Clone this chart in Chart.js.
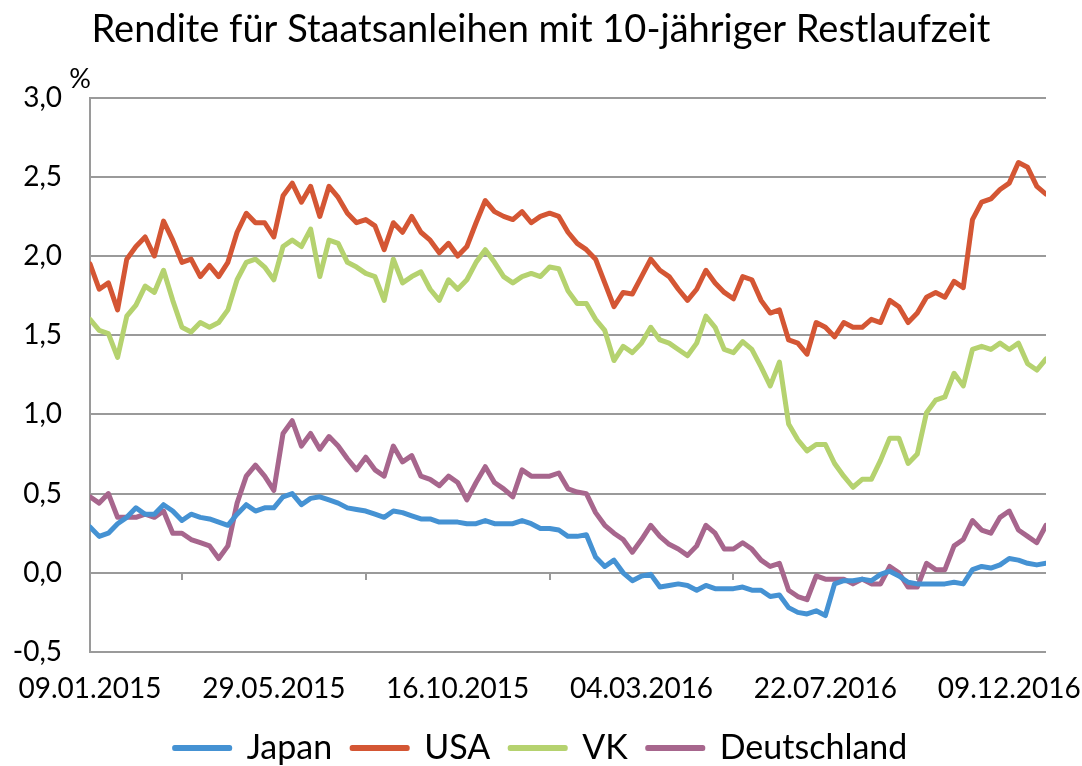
<!DOCTYPE html>
<html>
<head>
<meta charset="utf-8">
<script src="https://cdn.jsdelivr.net/npm/chart.js@4.4.0/dist/chart.umd.min.js"></script>
<style>
  html, body { margin: 0; padding: 0; background: #fff; }
</style>
</head>
<body>
<canvas id="yieldChart" width="1082" height="766"></canvas>
<script>
// weekly values (Fridays), week 0 = 09.01.2015
const tickWeeks = [0, 20, 40, 60, 80, 100];
const tickLabels = ['09.01.2015', '29.05.2015', '16.10.2015', '04.03.2016', '22.07.2016', '09.12.2016'];
const minorTickWeeks = [10, 30, 50, 70, 90];
const seriesNames = ['Japan', 'USA', 'VK', 'Deutschland'];

const japan = [
  0.29, 0.23, 0.25, 0.31, 0.35, 0.41, 0.37, 0.37, 0.43, 0.39,
  0.33, 0.37, 0.35, 0.34, 0.32, 0.30, 0.37, 0.43, 0.39, 0.41,
  0.41, 0.48, 0.50, 0.43, 0.47, 0.48, 0.46, 0.44, 0.41, 0.40,
  0.39, 0.37, 0.35, 0.39, 0.38, 0.36, 0.34, 0.34, 0.32, 0.32,
  0.32, 0.31, 0.31, 0.33, 0.31, 0.31, 0.31, 0.33, 0.31, 0.28,
  0.28, 0.27, 0.23, 0.23, 0.24, 0.10, 0.04, 0.08, 0.00, -0.05,
  -0.02, -0.01, -0.09, -0.08, -0.07, -0.08, -0.11, -0.08, -0.10, -0.10,
  -0.10, -0.09, -0.11, -0.11, -0.15, -0.14, -0.22, -0.25, -0.26, -0.24,
  -0.27, -0.07, -0.05, -0.05, -0.04, -0.05, -0.01, 0.01, -0.02, -0.06,
  -0.07, -0.07, -0.07, -0.07, -0.06, -0.07, 0.02, 0.04, 0.03, 0.05,
  0.09, 0.08, 0.06, 0.05, 0.06
];
const usa = [
  1.95, 1.79, 1.83, 1.66, 1.98, 2.06, 2.12, 2.00, 2.22, 2.10,
  1.96, 1.98, 1.87, 1.94, 1.87, 1.96, 2.15, 2.27, 2.21, 2.21,
  2.12, 2.38, 2.46, 2.34, 2.44, 2.25, 2.44, 2.37, 2.27, 2.21,
  2.23, 2.19, 2.04, 2.21, 2.15, 2.25, 2.15, 2.10, 2.02, 2.08,
  2.00, 2.06, 2.21, 2.35, 2.28, 2.25, 2.23, 2.28, 2.21, 2.25,
  2.27, 2.25, 2.15, 2.08, 2.04, 1.98, 1.83, 1.68, 1.77, 1.76,
  1.87, 1.98, 1.91, 1.87, 1.79, 1.72, 1.79, 1.91, 1.83, 1.77,
  1.73, 1.87, 1.85, 1.72, 1.64, 1.66, 1.47, 1.45, 1.38, 1.58,
  1.55, 1.49, 1.58, 1.55, 1.55, 1.60, 1.58, 1.72, 1.68, 1.58,
  1.64, 1.74, 1.77, 1.74, 1.84, 1.80, 2.23, 2.34, 2.36, 2.42,
  2.46, 2.59, 2.56, 2.44, 2.39
];
const vk = [
  1.60, 1.53, 1.51, 1.36, 1.62, 1.69, 1.81, 1.77, 1.91, 1.72,
  1.55, 1.52, 1.58, 1.55, 1.58, 1.66, 1.85, 1.96, 1.98, 1.93,
  1.85, 2.06, 2.10, 2.06, 2.17, 1.87, 2.10, 2.08, 1.96, 1.93,
  1.89, 1.87, 1.72, 1.98, 1.83, 1.87, 1.90, 1.79, 1.72, 1.85,
  1.79, 1.85, 1.96, 2.04, 1.96, 1.87, 1.83, 1.87, 1.89, 1.87,
  1.93, 1.92, 1.78, 1.70, 1.70, 1.60, 1.53, 1.34, 1.43, 1.39,
  1.45, 1.55, 1.47, 1.45, 1.41, 1.37, 1.45, 1.62, 1.55, 1.41,
  1.39, 1.46, 1.41, 1.30, 1.18, 1.33, 0.94, 0.84, 0.77, 0.81,
  0.81, 0.69, 0.61, 0.54, 0.59, 0.59, 0.71, 0.85, 0.85, 0.69,
  0.75, 1.01, 1.09, 1.11, 1.26, 1.18, 1.41, 1.43, 1.41, 1.45,
  1.41, 1.45, 1.32, 1.28, 1.35
];
const deutschland = [
  0.48, 0.44, 0.50, 0.35, 0.35, 0.35, 0.37, 0.35, 0.39, 0.25,
  0.25, 0.21, 0.19, 0.17, 0.09, 0.17, 0.44, 0.61, 0.68, 0.61,
  0.52, 0.88, 0.96, 0.80, 0.88, 0.78, 0.86, 0.80, 0.72, 0.65,
  0.73, 0.65, 0.61, 0.80, 0.70, 0.74, 0.61, 0.59, 0.55, 0.61,
  0.57, 0.46, 0.57, 0.67, 0.57, 0.53, 0.48, 0.65, 0.61, 0.61,
  0.61, 0.63, 0.53, 0.51, 0.50, 0.38, 0.30, 0.25, 0.21, 0.13,
  0.21, 0.30, 0.23, 0.18, 0.15, 0.11, 0.17, 0.30, 0.25, 0.15,
  0.15, 0.19, 0.15, 0.08, 0.04, 0.06, -0.11, -0.15, -0.17, -0.02,
  -0.04, -0.04, -0.04, -0.07, -0.04, -0.07, -0.07, 0.04, 0.00, -0.09,
  -0.09, 0.06, 0.02, 0.02, 0.17, 0.21, 0.33, 0.27, 0.25, 0.35,
  0.39, 0.27, 0.23, 0.19, 0.30
];

const colors = ['#4592D3', '#D45634', '#B5D26F', '#A7668D'];
const gridColor = '#9a9a9a';
const fontFamily = 'Lato, "Open Sans", sans-serif';

function toPoints(values) {
  return values.map((v, i) => ({ x: i, y: v }));
}

const axisExtras = {
  id: 'axisExtras',
  beforeDatasetsDraw(chart) {
    const { ctx, scales: { x, y }, chartArea } = chart;
    const y0 = Math.round(y.getPixelForValue(0));
    ctx.save();
    ctx.strokeStyle = gridColor;
    ctx.lineWidth = 2;
    minorTickWeeks.forEach(w => {
      const px = Math.round(x.getPixelForValue(w));
      ctx.beginPath();
      ctx.moveTo(px, y0);
      ctx.lineTo(px, y0 + 7);
      ctx.stroke();
    });
    ctx.fillStyle = '#000';
    ctx.font = '27px ' + fontFamily;
    ctx.textAlign = 'center';
    ctx.textBaseline = 'middle';
    ctx.fillText('%', chartArea.left - 10, chartArea.top - 18);
    ctx.restore();
  }
};

const allSeries = [japan, usa, vk, deutschland];

new Chart(document.getElementById('yieldChart'), {
  type: 'line',
  data: {
    datasets: allSeries.map((values, i) => ({
      label: seriesNames[i],
      data: toPoints(values),
      borderColor: colors[i],
      backgroundColor: colors[i],
      borderWidth: 5,
      pointRadius: 0,
      tension: 0,
      fill: false,
      borderJoinStyle: 'round',
      borderCapStyle: 'round'
    }))
  },
  options: {
    responsive: false,
    animation: false,
    layout: { padding: { top: 0, left: 0, right: 0, bottom: -9 } },
    plugins: {
      title: {
        display: true,
        text: 'Rendite für Staatsanleihen mit 10-jähriger Restlaufzeit',
        color: '#000',
        font: { family: fontFamily, size: 38, weight: 'normal' },
        padding: { top: 7, bottom: 45 }
      },
      legend: {
        position: 'bottom',
        labels: {
          boxWidth: 55,
          boxHeight: 1,
          padding: 20,
          color: '#000',
          font: { family: fontFamily, size: 34 }
        }
      },
      tooltip: { enabled: false }
    },
    scales: {
      x: {
        type: 'linear',
        min: 0,
        max: 104,
        grid: { display: false, drawTicks: false },
        border: { display: false },
        afterBuildTicks(scale) {
          scale.ticks = tickWeeks.map(v => ({ value: v }));
        },
        ticks: {
          autoSkip: false,
          maxRotation: 0,
          padding: 20,
          color: '#000',
          font: { family: fontFamily, size: 28 },
          callback: (v, idx) => tickLabels[idx]
        },
        afterFit(scale) {
          scale.height = 59;
          scale.paddingLeft = 0;
          scale.paddingRight = 0;
        }
      },
      y: {
        min: -0.5,
        max: 3,
        ticks: {
          stepSize: 0.5,
          padding: 28,
          color: '#000',
          font: { family: fontFamily, size: 28 },
          callback: v => v.toFixed(1).replace('.', ',')
        },
        grid: { color: gridColor, lineWidth: 2, drawTicks: false },
        border: { display: true, color: gridColor, width: 2 },
        afterFit(scale) { scale.width = 90; }
      },
      yRight: {
        position: 'right',
        grid: { display: false, drawTicks: false },
        border: { display: false },
        ticks: { display: false },
        afterFit(scale) { scale.width = 36; }
      }
    }
  },
  plugins: [axisExtras]
});
</script>
</body>
</html>
